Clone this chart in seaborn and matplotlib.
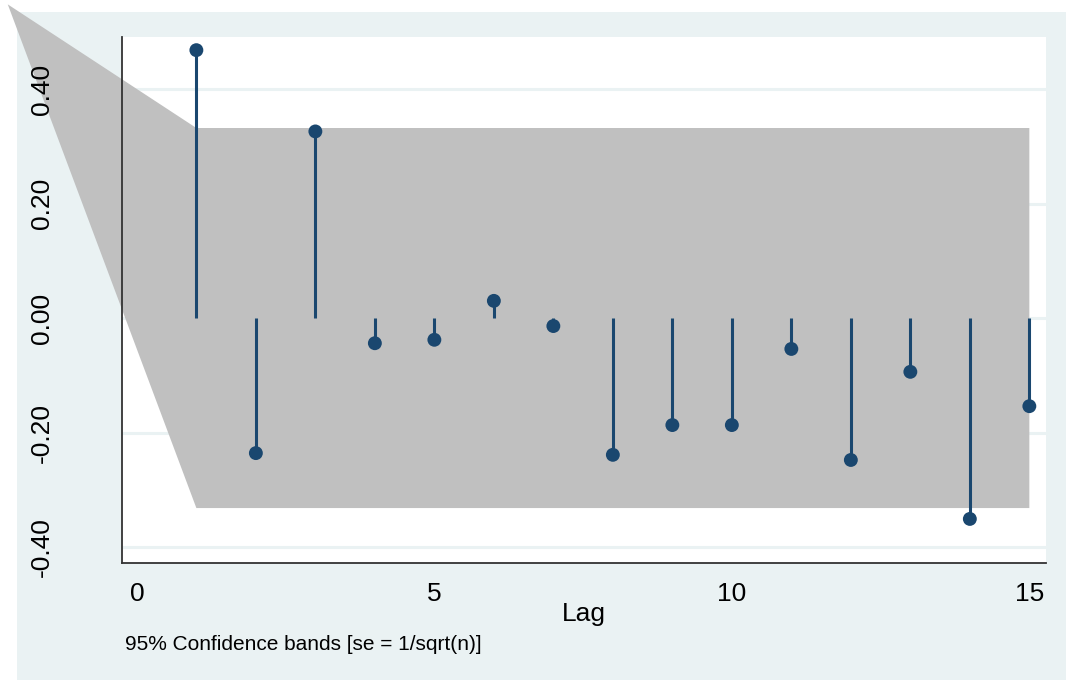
import numpy as np
import pandas as pd
import seaborn as sns
import matplotlib
matplotlib.use("Agg")
import matplotlib.pyplot as plt
from matplotlib.patches import Rectangle, Polygon

# partial autocorrelations
lags = [1, 2, 3, 4, 5, 6, 7, 8, 9, 10, 11, 12, 13, 14, 15]
pac = [0.468, -0.236, 0.326, -0.044, -0.038, 0.030, -0.014, -0.239,
       -0.187, -0.187, -0.054, -0.248, -0.094, -0.351, -0.154]
band = 0.332
# the band polygon starts from a point outside the plot (as in the original)
band_start = (-2.17, 0.548)

yticks = [-0.40, -0.20, 0.00, 0.20, 0.40]
ytick_labels = ["-0.40", "-0.20", "0.00", "0.20", "0.40"]
xticks = [0, 5, 10, 15]

navy = "#1A476F"
bg = "#EAF2F3"

sns.set_style("white")
plt.rcParams["font.family"] = ["Liberation Sans", "DejaVu Sans"]
plt.rcParams["axes.unicode_minus"] = False

W, H = 1066, 680
fig = plt.figure(figsize=(W / 100, H / 100), dpi=100, facecolor="white")
fig.patches.append(Rectangle((17 / W, 0), 1 - 17 / W, 1 - 12 / H,
                             transform=fig.transFigure, facecolor=bg,
                             edgecolor="none", zorder=-10))

ax = fig.add_axes([122 / W, 1 - 563 / H, (1046 - 122) / W, (563 - 37) / H])
ax.set_facecolor("white")

df = pd.DataFrame({"lag": lags, "pac": pac})

# gridlines under everything
for yv in yticks:
    ax.axhline(yv, color=bg, linewidth=2.2, zorder=0.5)

# confidence band
verts = [band_start, (lags[0], band), (lags[-1], band),
         (lags[-1], -band), (lags[0], -band)]
ax.add_patch(Polygon(verts, closed=True, facecolor="#C0C0C0",
                     edgecolor="none", zorder=1, clip_on=False))

# stems + markers
ax.vlines(df["lag"], 0, df["pac"], color=navy, linewidth=2.2, zorder=3)
sns.scatterplot(data=df, x="lag", y="pac", ax=ax, color=navy, s=100,
                edgecolor="none", zorder=4, legend=False)

ax.set_xlim(-0.25, 15.28)
ax.set_ylim(-0.428, 0.491)
ax.set_yticks(yticks)
ax.set_yticklabels(ytick_labels, rotation=90, va="center", fontsize=19)
ax.set_xticks(xticks)
ax.set_xticklabels([str(t) for t in xticks], fontsize=19)
ax.grid(False)
ax.set_axisbelow(False)

for s in ["top", "right"]:
    ax.spines[s].set_visible(False)
for s in ["left", "bottom"]:
    ax.spines[s].set_color("#333333")
    ax.spines[s].set_linewidth(1.3)
ax.tick_params(axis="both", direction="out", length=7, width=1.2,
               color="#333333", labelcolor="black")
ax.tick_params(axis="x", pad=7)
ax.tick_params(axis="y", pad=42)

ax.set_xlabel("Lag", fontsize=19, labelpad=-3, color="black")
ax.set_ylabel("")

fig.text(125 / W, 1 - 644 / H, "95% Confidence bands [se = 1/sqrt(n)]",
         fontsize=15, va="center", ha="left", color="black")

fig.savefig("out.png", dpi=100, facecolor=fig.get_facecolor())
